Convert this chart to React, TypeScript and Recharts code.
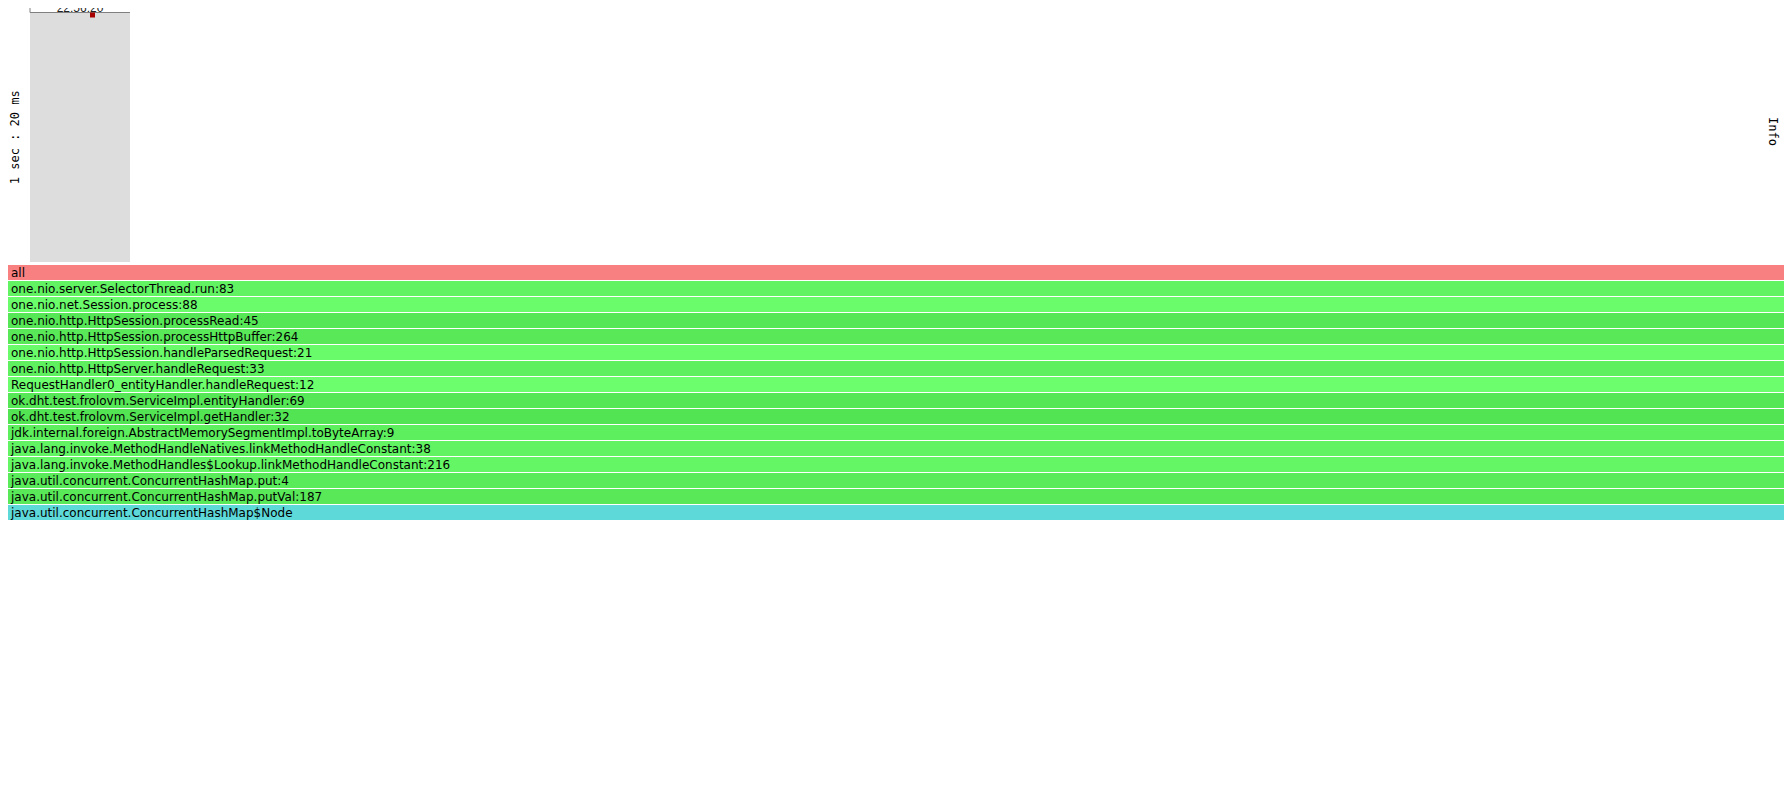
import React from 'react'
import {
  ScatterChart,
  Scatter,
  BarChart,
  Bar,
  Cell,
  LabelList,
  XAxis,
  YAxis,
  ReferenceArea
} from 'recharts'

// heatmap: one 1-second column split into 20 ms cells
const timeLabels = ['22:56:20']
const heatColumns = 20
const heatRows = 50
const heatCells = [{ col: 12, row: 0, count: 1 }]

// flame graph frames, root first
const frameNames = [
  'all',
  'one.nio.server.SelectorThread.run:83',
  'one.nio.net.Session.process:88',
  'one.nio.http.HttpSession.processRead:45',
  'one.nio.http.HttpSession.processHttpBuffer:264',
  'one.nio.http.HttpSession.handleParsedRequest:21',
  'one.nio.http.HttpServer.handleRequest:33',
  'RequestHandler0_entityHandler.handleRequest:12',
  'ok.dht.test.frolovm.ServiceImpl.entityHandler:69',
  'ok.dht.test.frolovm.ServiceImpl.getHandler:32',
  'jdk.internal.foreign.AbstractMemorySegmentImpl.toByteArray:9',
  'java.lang.invoke.MethodHandleNatives.linkMethodHandleConstant:38',
  'java.lang.invoke.MethodHandles$Lookup.linkMethodHandleConstant:216',
  'java.util.concurrent.ConcurrentHashMap.put:4',
  'java.util.concurrent.ConcurrentHashMap.putVal:187',
  'java.util.concurrent.ConcurrentHashMap$Node'
]
const frameSamples = [1, 1, 1, 1, 1, 1, 1, 1, 1, 1, 1, 1, 1, 1, 1, 1]

const frameColors = [
  '#f98080',
  '#62f362',
  '#6bfc6b',
  '#56e756',
  '#58e858',
  '#6afb6a',
  '#5ff05f',
  '#6dfe6d',
  '#56e756',
  '#53e453',
  '#5def5d',
  '#62f362',
  '#65f665',
  '#5aeb5a',
  '#58e858',
  '#5ed9d9'
]

const HEAT_W = 100
const HEAT_AXIS_W = 22
const HEAT_TOP = 12.5
const cellPx = HEAT_W / heatColumns
const ROW_H = 16

const flameData = frameNames.map((name, i) => ({ name, samples: frameSamples[i] }))
const heatData = heatCells.map((c) => ({ x: c.col + 0.5, y: c.row + 0.5, count: c.count }))
const totalSamples = Math.max(...frameSamples)

const mono = '"DejaVu Sans Mono", monospace'

export default function App() {
  return (
    <div style={{ position: 'relative', marginTop: -8, marginLeft: -8, width: 1792, height: 780 }}>
      <div style={{ position: 'absolute', left: 8, top: 0 }}>
        <ScatterChart
          width={HEAT_AXIS_W + HEAT_W + 10}
          height={270}
          margin={{ top: 0, right: 10, bottom: 8, left: 0 }}
        >
          <ReferenceArea
            x1={0}
            x2={heatColumns}
            y1={0}
            y2={heatRows}
            fill="#dddddd"
            fillOpacity={1}
            stroke="none"
          />
          <XAxis
            type="number"
            dataKey="x"
            orientation="top"
            domain={[0, heatColumns]}
            ticks={[0]}
            height={HEAT_TOP}
            tickSize={5}
            tickMargin={0}
            axisLine={{ stroke: '#808080' }}
            tickLine={{ stroke: '#808080' }}
            tick={(props: any) => (
              <text
                x={props.x + HEAT_W / 2}
                y={HEAT_TOP - 1}
                textAnchor="middle"
                fontSize={12}
                fontFamily='"Liberation Sans", Arial, sans-serif'
                fill="#222"
              >
                {timeLabels[props.index] ?? timeLabels[0]}
              </text>
            )}
          />
          <YAxis
            type="number"
            dataKey="y"
            domain={[0, heatRows]}
            reversed
            width={HEAT_AXIS_W}
            axisLine={false}
            tickLine={false}
            tick={false}
            label={{
              value: '1 sec : 20 ms',
              angle: -90,
              position: 'center',
              dx: -4,
              style: { fontFamily: mono, fontSize: 12, fill: '#000' }
            }}
          />
          <Scatter
            data={heatData}
            isAnimationActive={false}
            shape={(p: any) => (
              <rect
                x={p.cx - cellPx / 2}
                y={p.cy - cellPx / 2}
                width={cellPx}
                height={cellPx}
                fill="#a80000"
              />
            )}
          />
        </ScatterChart>
      </div>

      <div
        style={{
          position: 'absolute',
          left: 1766,
          top: 117,
          writingMode: 'vertical-rl',
          fontFamily: mono,
          fontSize: 12,
          color: '#000'
        }}
      >
        Info
      </div>

      <div style={{ position: 'absolute', left: 8, top: 264 }}>
        <BarChart
          layout="vertical"
          width={1776}
          height={ROW_H * frameNames.length}
          data={flameData}
          margin={{ top: 0, right: 0, bottom: 0, left: 0 }}
          barCategoryGap={0}
        >
          <XAxis type="number" domain={[0, totalSamples]} hide />
          <YAxis type="category" dataKey="name" hide />
          <Bar dataKey="samples" barSize={ROW_H - 1} isAnimationActive={false}>
            {flameData.map((d, i) => (
              <Cell key={d.name} fill={frameColors[i]} />
            ))}
            <LabelList
              dataKey="name"
              content={(p: any) => (
                <text
                  x={p.x + 3}
                  y={p.y + 12}
                  fontSize={12}
                  fontFamily='"DejaVu Sans", Verdana, sans-serif'
                  fill="#000"
                >
                  {p.value}
                </text>
              )}
            />
          </Bar>
        </BarChart>
      </div>
    </div>
  )
}
